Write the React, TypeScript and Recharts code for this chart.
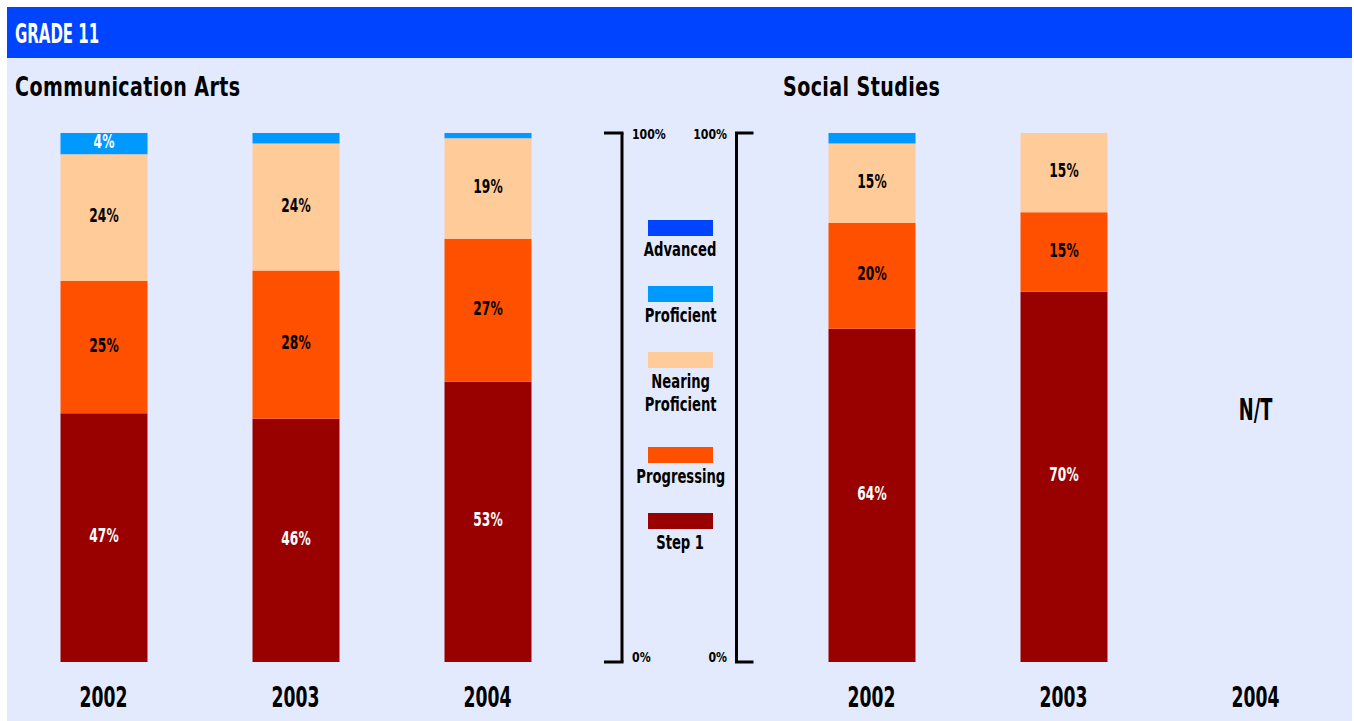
import React from 'react';
import { Bar, BarChart, LabelList, ReferenceDot, XAxis, YAxis } from 'recharts';

const FONT = "'Liberation Sans Narrow', 'DejaVu Sans Condensed', 'Liberation Sans', sans-serif";

const years = ['2002', '2003', '2004'];
const axisTicks = [0, 100];

// Communication Arts, percent of students per level
const caStep1 = [47, 46, 53];
const caProgressing = [25, 28, 27];
const caNearing = [24, 24, 19];
const caProficient = [4, 2, 1];
const caAdvanced = [0, 0, 0];
const caStep1Labels = ['47%', '46%', '53%'];
const caProgressingLabels = ['25%', '28%', '27%'];
const caNearingLabels = ['24%', '24%', '19%'];
const caProficientLabels = ['4%', '', ''];

// Social Studies (2004 not tested)
const ssStep1 = [63, 70, null];
const ssProgressing = [20, 15, null];
const ssNearing = [15, 15, null];
const ssProficient = [2, 0, null];
const ssAdvanced = [0, 0, null];
const ssStep1Labels = ['64%', '70%', ''];
const ssProgressingLabels = ['20%', '15%', ''];
const ssNearingLabels = ['15%', '15%', ''];
const ssProficientLabels = ['', '', ''];

const levels = [
    { key: 'step1', name: 'Step 1', color: '#990000', text: '#ffffff' },
    { key: 'progressing', name: 'Progressing', color: '#ff5000', text: '#000000' },
    { key: 'nearing', name: 'Nearing Proficient', color: '#ffcc99', text: '#000000' },
    { key: 'proficient', name: 'Proficient', color: '#0099ff', text: '#ffffff' },
    { key: 'advanced', name: 'Advanced', color: '#0044ff', text: '#ffffff' },
];

const legendLines: Record<string, string[]> = {
    advanced: ['Advanced'],
    proficient: ['Proficient'],
    nearing: ['Nearing', 'Proficient'],
    progressing: ['Progressing'],
    step1: ['Step 1'],
};

const caData = years.map((year, i) => ({
    year,
    step1: caStep1[i],
    progressing: caProgressing[i],
    nearing: caNearing[i],
    proficient: caProficient[i],
    advanced: caAdvanced[i],
    step1Label: caStep1Labels[i],
    progressingLabel: caProgressingLabels[i],
    nearingLabel: caNearingLabels[i],
    proficientLabel: caProficientLabels[i],
    advancedLabel: '',
}));

const ssData = years.map((year, i) => ({
    year,
    step1: ssStep1[i],
    progressing: ssProgressing[i],
    nearing: ssNearing[i],
    proficient: ssProficient[i],
    advanced: ssAdvanced[i],
    step1Label: ssStep1Labels[i],
    progressingLabel: ssProgressingLabels[i],
    nearingLabel: ssNearingLabels[i],
    proficientLabel: ssProficientLabels[i],
    advancedLabel: '',
}));

// squeezed text, the original uses a condensed face
function SText({ x, y, sx, size, anchor = 'middle', fill = '#000', children }: any) {
    return (
        <text
            transform={`translate(${x},${y}) scale(${sx},1)`}
            textAnchor={anchor}
            fill={fill}
            fontFamily={FONT}
            fontWeight='bold'
            fontSize={size}
        >
            {children}
        </text>
    );
}

const segLabel = (color: string) => (props: any) => {
    const { x, y, width, height, value } = props;
    if (!value) return null;
    const cx = Number(x) + Number(width) / 2;
    const cy = Number(y) + Number(height) / 2;
    return (
        <SText x={cx} y={cy + 4.5} sx={0.68} size={20} fill={color}>
            {value}
        </SText>
    );
};

const YearTick = (props: any) => {
    const { x, y, payload } = props;
    return (
        <SText x={x} y={y + 19} sx={0.66} size={29}>
            {payload.value}
        </SText>
    );
};

// bracket on the right of Communication Arts: ticks point left, labels right
const RightBracketTick = (props: any) => {
    const { x, y, payload } = props;
    return (
        <g>
            <line x1={x - 18} x2={x + 1.5} y1={y} y2={y} stroke='#000' strokeWidth={3} />
            <SText x={x + 10} y={y + (payload.value === 0 ? 0 : 6)} sx={0.87} size={14} anchor='start'>
                {payload.value}%
            </SText>
        </g>
    );
};

// bracket on the left of Social Studies: ticks point right, labels left
const LeftBracketTick = (props: any) => {
    const { x, y, payload } = props;
    return (
        <g>
            <line x1={x - 1.5} x2={x + 17} y1={y} y2={y} stroke='#000' strokeWidth={3} />
            <SText x={x - 9.5} y={y + (payload.value === 0 ? 0 : 6)} sx={0.87} size={14} anchor='end'>
                {payload.value}%
            </SText>
        </g>
    );
};

const NotTested = (props: any) => {
    const { cx, cy } = props;
    return (
        <SText x={cx} y={cy + 11} sx={0.66} size={30}>
            N/T
        </SText>
    );
};

function Bars() {
    return levels.map((lv) => (
        <Bar key={lv.key} dataKey={lv.key} stackId='a' fill={lv.color} barSize={87} isAnimationActive={false}>
            <LabelList dataKey={lv.key + 'Label'} content={segLabel(lv.text)} />
        </Bar>
    ));
}

export default function App() {
    const title: React.CSSProperties = {
        position: 'absolute',
        top: 74,
        fontFamily: FONT,
        fontWeight: 'bold',
        fontSize: 26,
        lineHeight: '26px',
        letterSpacing: 0.5,
        color: '#000',
        whiteSpace: 'nowrap',
        transform: 'scaleX(0.815)',
        transformOrigin: 'left',
    };
    return (
        <div style={{ position: 'absolute', left: 0, top: 0, width: 1354, height: 721, background: '#fff', overflow: 'hidden' }}>
            <div style={{ position: 'absolute', left: 7, top: 7, width: 1345, height: 714, background: '#e4eafd' }} />
            <div style={{ position: 'absolute', left: 7, top: 7, width: 1345, height: 51, background: '#0044ff' }} />
            <div
                style={{
                    position: 'absolute',
                    left: 15,
                    top: 21,
                    fontFamily: FONT,
                    fontWeight: 'bold',
                    fontSize: 26,
                    lineHeight: '26px',
                    color: '#fff',
                    transform: 'scaleX(0.64)',
                    transformOrigin: 'left',
                    whiteSpace: 'nowrap',
                }}
            >
                GRADE 11
            </div>
            <div style={{ ...title, left: 15 }}>Communication Arts</div>
            <div style={{ ...title, left: 783 }}>Social Studies</div>

            <div style={{ position: 'absolute', left: 0, top: 0 }}>
                <BarChart width={682} height={721} data={caData} margin={{ top: 133, right: 0, bottom: 0, left: 7.5 }}>
                    <XAxis
                        dataKey='year'
                        height={59}
                        axisLine={false}
                        tickLine={false}
                        tickSize={0}
                        tickMargin={26}
                        padding={{ left: 0, right: 38.5 }}
                        tick={<YearTick />}
                    />
                    <YAxis
                        orientation='right'
                        width={60}
                        domain={[0, 100]}
                        ticks={axisTicks}
                        interval={0}
                        tickLine={false}
                        tickSize={0}
                        tickMargin={0}
                        axisLine={{ stroke: '#000', strokeWidth: 3 }}
                        tick={<RightBracketTick />}
                    />
                    {Bars()}
                </BarChart>
            </div>

            <div style={{ position: 'absolute', left: 0, top: 0 }}>
                <BarChart width={1354} height={721} data={ssData} margin={{ top: 133, right: 2.5, bottom: 0, left: 676.5 }}>
                    <XAxis
                        dataKey='year'
                        height={59}
                        axisLine={false}
                        tickLine={false}
                        tickSize={0}
                        tickMargin={26}
                        padding={{ left: 39, right: 0 }}
                        tick={<YearTick />}
                    />
                    <YAxis
                        orientation='left'
                        width={60}
                        domain={[0, 100]}
                        ticks={axisTicks}
                        interval={0}
                        tickLine={false}
                        tickSize={0}
                        tickMargin={0}
                        axisLine={{ stroke: '#000', strokeWidth: 3 }}
                        tick={<LeftBracketTick />}
                    />
                    {Bars()}
                    <ReferenceDot x='2004' y={47.8} r={1} shape={NotTested} />
                </BarChart>
            </div>

            <div style={{ position: 'absolute', left: 620, top: 220, width: 121, display: 'flex', flexDirection: 'column', alignItems: 'center' }}>
                {[...levels].reverse().map((lv) => {
                    const lines = legendLines[lv.key];
                    return (
                        <div
                            key={lv.key}
                            style={{
                                display: 'flex',
                                flexDirection: 'column',
                                alignItems: 'center',
                                marginBottom: 25 + (lines.length - 1) * 6,
                            }}
                        >
                            <div style={{ width: 65, height: 16, background: lv.color }} />
                            <div
                                style={{
                                    paddingTop: 2,
                                    fontFamily: FONT,
                                    fontWeight: 'bold',
                                    fontSize: 19,
                                    lineHeight: '23px',
                                    textAlign: 'center',
                                    color: '#000',
                                    whiteSpace: 'nowrap',
                                    transform: 'scaleX(0.77)',
                                }}
                            >
                                {lines.map((t) => (
                                    <div key={t}>{t}</div>
                                ))}
                            </div>
                        </div>
                    );
                })}
            </div>
        </div>
    );
}
